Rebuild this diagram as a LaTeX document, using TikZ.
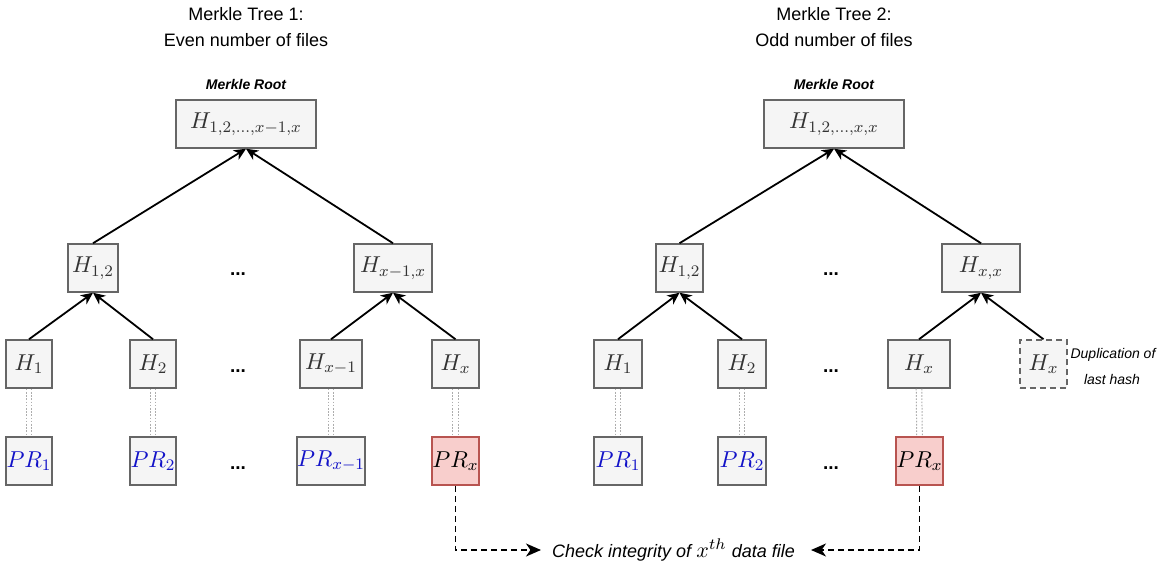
\RequirePackage{fix-cm}
\documentclass[tikz,border=0pt]{standalone}
\usepackage[no-math]{fontspec}
\setmainfont{Liberation Sans}
\usetikzlibrary{arrows.meta}
\definecolor{boxfill}{HTML}{F5F5F5}
\definecolor{boxline}{HTML}{666666}
\definecolor{boxtext}{HTML}{333333}
\definecolor{prblue}{HTML}{1212C8}
\definecolor{redfill}{HTML}{F8CECC}
\definecolor{redline}{HTML}{B85450}
\definecolor{linkgray}{HTML}{ADADAD}
\begin{document}
\begin{tikzpicture}[x=0.5pt,y=-0.5pt,
  hbox/.style={draw=boxline, fill=boxfill, line width=0.75pt, text=boxtext,
    inner sep=0pt, minimum height=24pt, font=\fontsize{11.5}{13}\selectfont},
  prbox/.style={hbox, text=prblue},
  redbox/.style={hbox, draw=redline, fill=redfill, text=black},
  dupbox/.style={hbox, dash pattern=on 3pt off 2pt},
  arr/.style={line width=0.9pt, -{Stealth[length=6pt,width=5.5pt,inset=1.8pt]}},
  checkarr/.style={line width=0.8pt, dash pattern=on 3pt off 2pt,
    -{Stealth[length=7.5pt,width=6.5pt,inset=2.2pt]}},
  linkline/.style={linkgray, line width=0.5pt, dash pattern=on 0.8pt off 0.8pt},
  title/.style={font=\fontsize{9}{11}\selectfont, anchor=base, inner sep=0pt},
  rootlabel/.style={font=\fontsize{7}{8}\selectfont\bfseries\itshape, anchor=base, inner sep=0pt},
  note/.style={font=\fontsize{7}{8}\selectfont\itshape, anchor=base, inner sep=0pt},
  gap/.style={font=\fontsize{9.5}{11}\selectfont\bfseries, anchor=base, inner sep=0pt},
]
\fill[white] (0,0) rectangle (1165,566);
\useasboundingbox (0,0) rectangle (1165,566);

% ---------- Tree 1: even number of files ----------
\node[title] (t1a) at (246,21) {Merkle Tree 1:};
\node[title] (t1b) at (246,47) {Even number of files};
\node[rootlabel] (r1lab) at (246,90) {Merkle Root};

\node[hbox, minimum width=70pt] (root1) at (246,124) {$H_{1,2,\ldots,x-1,x}$};
\node[hbox, minimum width=25pt] (h12a) at (93,268) {$H_{1,2}$};
\node[hbox, minimum width=39pt] (hxm1x) at (393,268) {$H_{x-1,x}$};
\node[gap] (d1a) at (238,276) {...};

\node[hbox, minimum width=23pt] (h1a) at (29,364) {$H_1$};
\node[hbox, minimum width=23pt] (h2a) at (153,364) {$H_2$};
\node[gap] (d1b) at (238,372) {...};
\node[hbox, minimum width=31pt] (hxm1) at (331,364) {$H_{x-1}$};
\node[hbox, minimum width=23.5pt] (hxa) at (455.5,364) {$H_x$};

\node[prbox, minimum width=23pt] (pr1a) at (29,461) {$PR_1$};
\node[prbox, minimum width=23pt] (pr2a) at (153,461) {$PR_2$};
\node[gap] (d1c) at (238,469) {...};
\node[prbox, minimum width=31pt] (prxm1) at (331,461) {$PR_{x-1}$};
\node[redbox, minimum width=23.5pt] (prxa) at (455.5,461) {$PR_x$};

\draw[arr] (h12a.north) -- (root1.south);
\draw[arr] (hxm1x.north) -- (root1.south);
\draw[arr] (h1a.north) -- (h12a.south);
\draw[arr] (h2a.north) -- (h12a.south);
\draw[arr] (hxm1.north) -- (hxm1x.south);
\draw[arr] (hxa.north) -- (hxm1x.south);

% ---------- Tree 2: odd number of files ----------
\node[title] (t2a) at (834,21) {Merkle Tree 2:};
\node[title] (t2b) at (834,47) {Odd number of files};
\node[rootlabel] (r2lab) at (834,90) {Merkle Root};

\node[hbox, minimum width=70pt] (root2) at (834,124) {$H_{1,2,\ldots,x,x}$};
\node[hbox, minimum width=23.5pt] (h12b) at (679.5,268) {$H_{1,2}$};
\node[hbox, minimum width=39pt] (hxx) at (981,268) {$H_{x,x}$};
\node[gap] (d2a) at (831,276) {...};

\node[hbox, minimum width=24pt] (h1b) at (618,364) {$H_1$};
\node[hbox, minimum width=24pt] (h2b) at (742,364) {$H_2$};
\node[gap] (d2b) at (831,372) {...};
\node[hbox, minimum width=31pt] (hxb) at (919,364) {$H_x$};
\node[dupbox, minimum width=23.5pt] (hdup) at (1043.5,364) {$H_x$};
\node[note] (dupa) at (1113,358) {Duplication of};
\node[note] (dupb) at (1112,384) {last hash};

\node[prbox, minimum width=24pt] (pr1b) at (618,461) {$PR_1$};
\node[prbox, minimum width=24pt] (pr2b) at (742,461) {$PR_2$};
\node[gap] (d2c) at (831,469) {...};
\node[redbox, minimum width=23.5pt] (prxb) at (919.5,461) {$PR_x$};

\draw[arr] (h12b.north) -- (root2.south);
\draw[arr] (hxx.north) -- (root2.south);
\draw[arr] (h1b.north) -- (h12b.south);
\draw[arr] (h2b.north) -- (h12b.south);
\draw[arr] (hxb.north) -- (hxx.south);
\draw[arr] (hdup.north) -- (hxx.south);

% ---------- links between hashes and files ----------
\foreach \a/\b in {h1a/pr1a, h2a/pr2a, hxm1/prxm1, hxa/prxa, h1b/pr1b, h2b/pr2b, hxb/prxb} {
  \draw[linkline] ([xshift=-1.4pt]\a.south) -- ([xshift=-1.4pt]\b.north);
  \draw[linkline] ([xshift=1.4pt]\a.south) -- ([xshift=1.4pt]\b.north);
}

% ---------- integrity check ----------
\node[font=\fontsize{9}{11}\selectfont\itshape, anchor=base, inner sep=0pt] (check) at (673.5,557)
  {Check integrity of \fontsize{11}{13}\selectfont$x^{th}$\fontsize{9}{11}\selectfont{} data file};
\coordinate (cl) at (541,550);
\coordinate (cr) at (811,550);
\draw[checkarr] (prxa.south) |- (cl);
\draw[checkarr] (prxb.south) |- (cr);
\end{tikzpicture}
\end{document}
